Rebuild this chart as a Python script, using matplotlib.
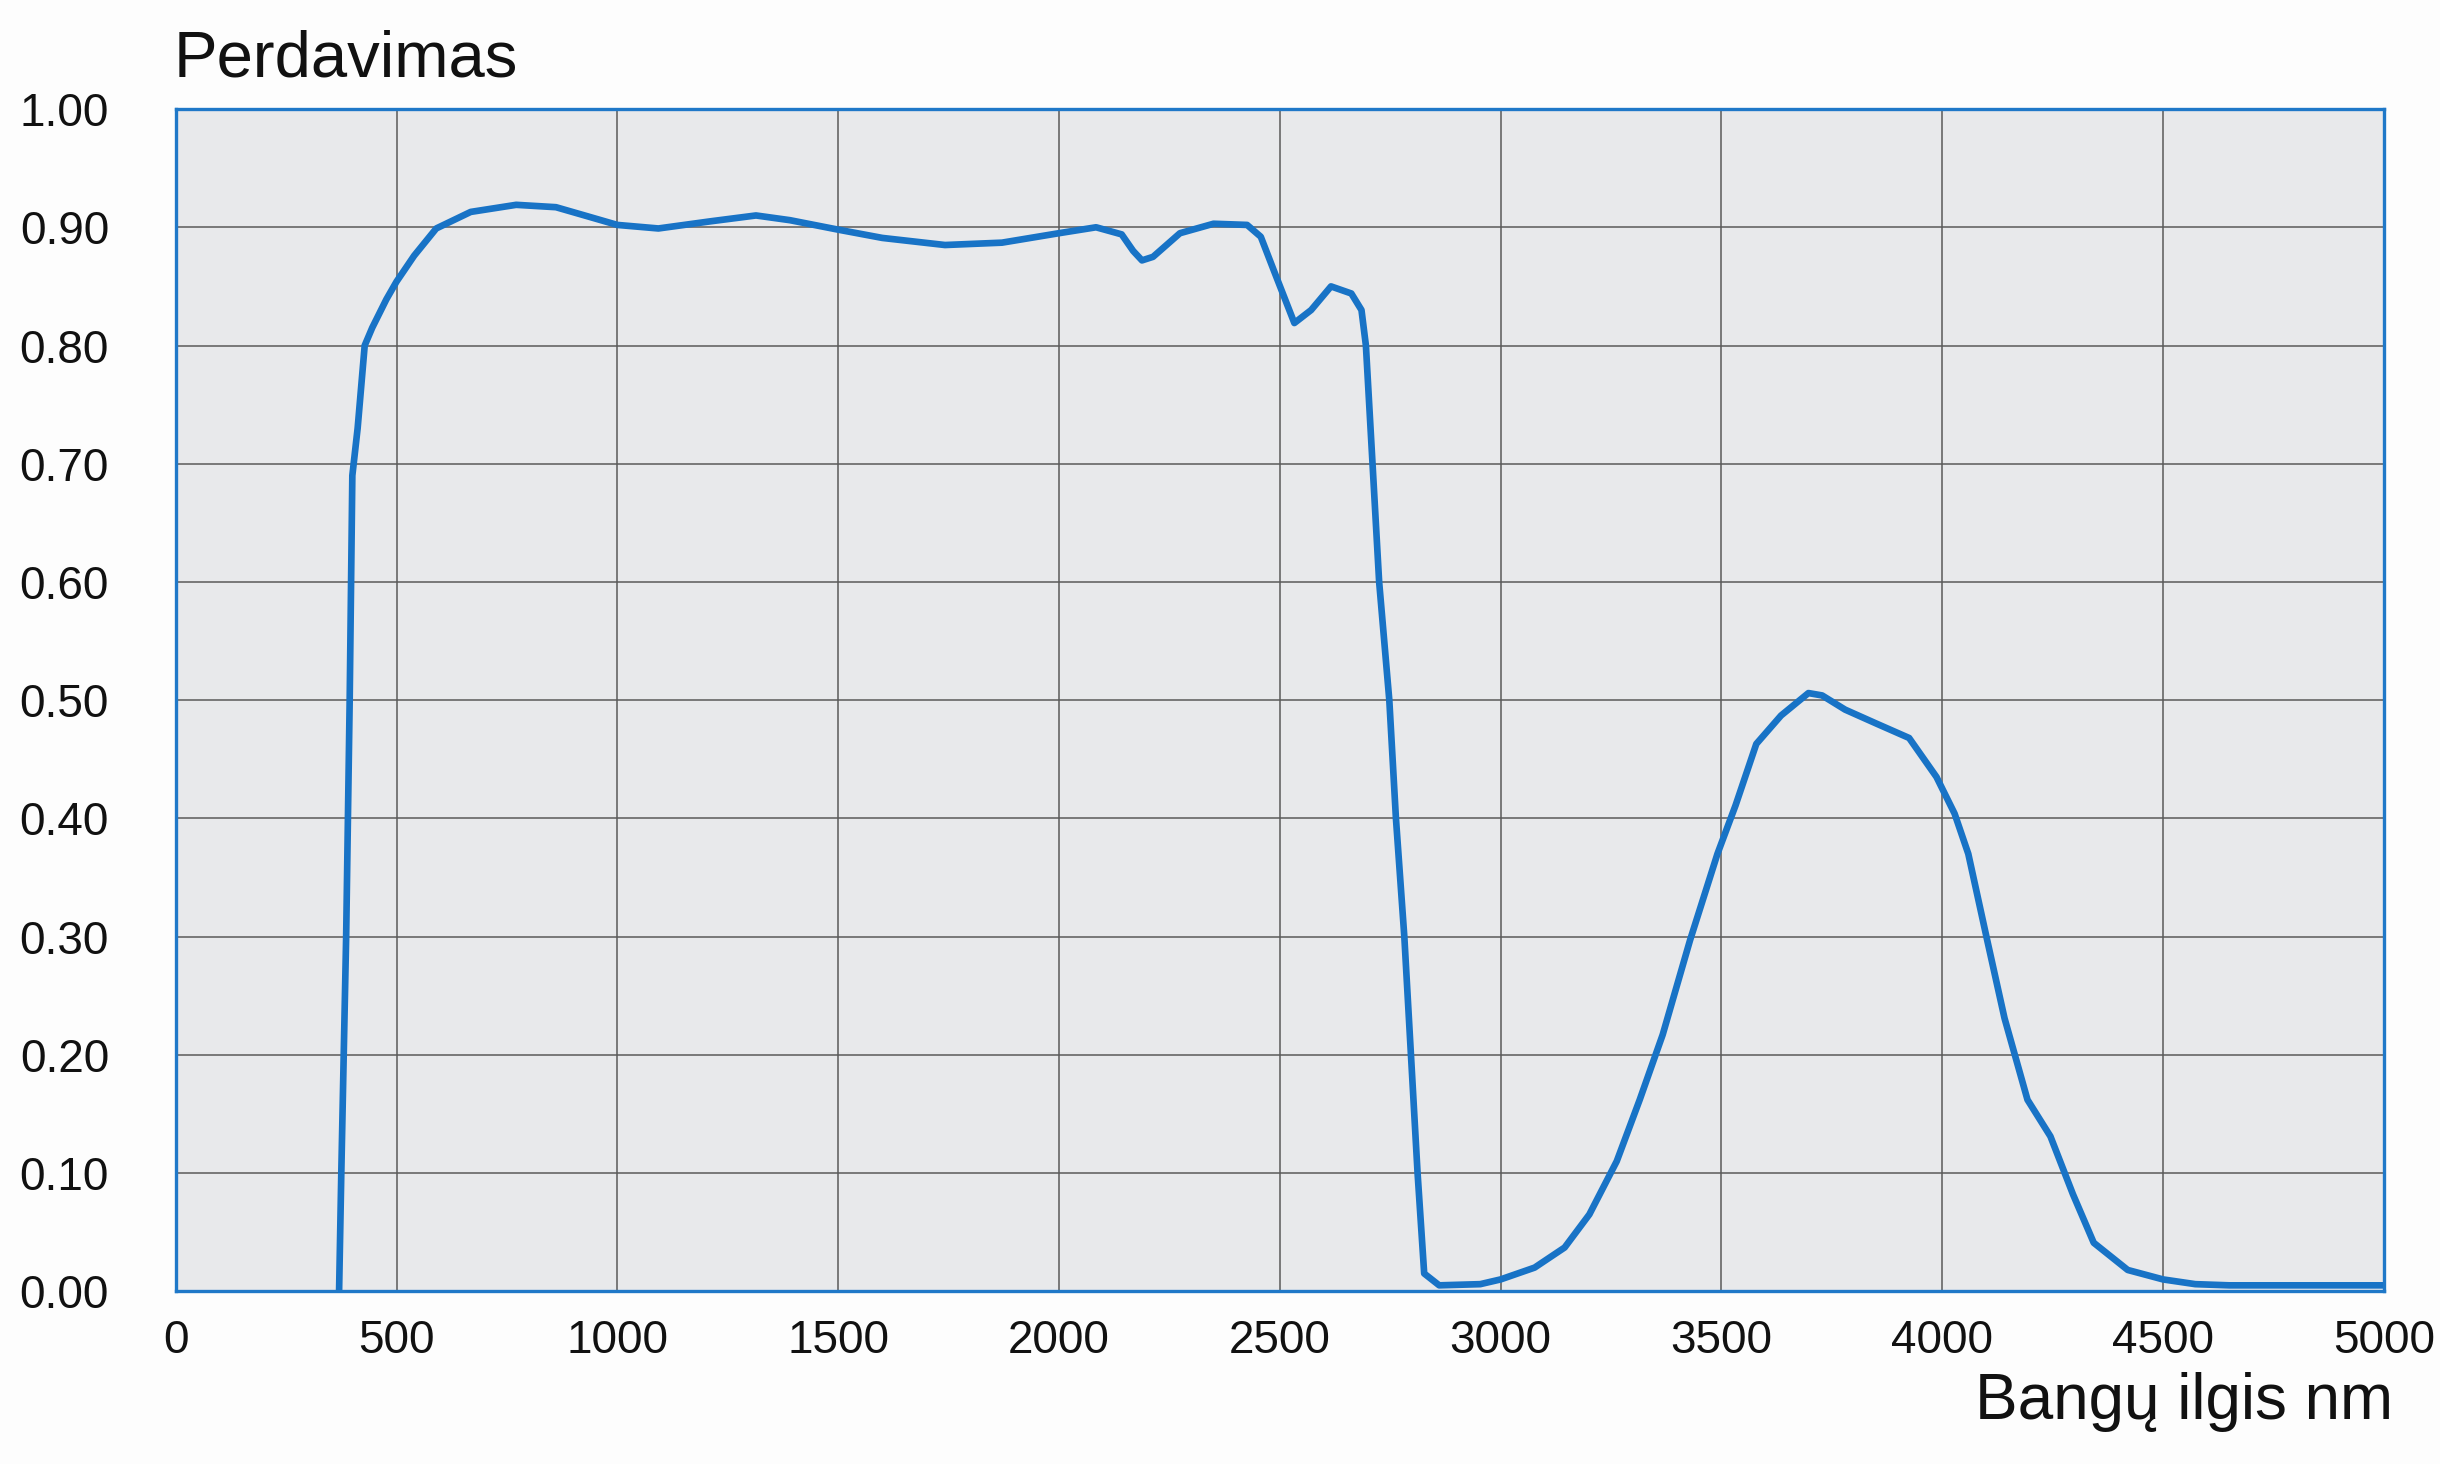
import matplotlib
matplotlib.use("Agg")
import matplotlib.pyplot as plt

# Data
wavelength_nm = [370, 375, 386, 394, 400, 412, 428, 445, 477, 500, 540, 590, 668, 771,
                 861, 926, 1000, 1093, 1210, 1314, 1391, 1500, 1600, 1742, 1871, 2000,
                 2084, 2142, 2168, 2188, 2213, 2274, 2350, 2426, 2457, 2487, 2533, 2571,
                 2616, 2662, 2685, 2695, 2710, 2725, 2748, 2763, 2782, 2797, 2812, 2827,
                 2861, 2954, 3000, 3077, 3145, 3201, 3263, 3315, 3367, 3429, 3491, 3532,
                 3579, 3635, 3697, 3728, 3780, 3852, 3925, 3987, 4028, 4059, 4100, 4141,
                 4193, 4245, 4296, 4343, 4420, 4500, 4573, 4650, 5000]
transmission = [0.0, 0.10, 0.30, 0.50, 0.69, 0.73, 0.80, 0.815, 0.839, 0.854, 0.876,
                0.899, 0.913, 0.919, 0.917, 0.910, 0.902, 0.899, 0.905, 0.910, 0.906,
                0.898, 0.891, 0.885, 0.887, 0.895, 0.900, 0.894, 0.880, 0.872, 0.875,
                0.895, 0.903, 0.902, 0.892, 0.863, 0.819, 0.830, 0.850, 0.844, 0.830,
                0.800, 0.700, 0.600, 0.500, 0.400, 0.300, 0.200, 0.100, 0.015, 0.005,
                0.006, 0.010, 0.020, 0.037, 0.065, 0.110, 0.162, 0.217, 0.297, 0.370,
                0.411, 0.463, 0.487, 0.506, 0.504, 0.492, 0.480, 0.468, 0.435, 0.404,
                0.370, 0.300, 0.231, 0.162, 0.131, 0.082, 0.041, 0.018, 0.010, 0.006,
                0.005, 0.005]

x_ticks = [0, 500, 1000, 1500, 2000, 2500, 3000, 3500, 4000, 4500, 5000]
y_ticks = [0.0, 0.1, 0.2, 0.3, 0.4, 0.5, 0.6, 0.7, 0.8, 0.9, 1.0]
y_tick_labels = ["0.00", "0.10", "0.20", "0.30", "0.40", "0.50", "0.60", "0.70",
                 "0.80", "0.90", "1.00"]

title_text = "Perdavimas"
xlabel_text = "Bangų ilgis nm"

plt.rcParams['font.family'] = ['Liberation Sans', 'DejaVu Sans']

fig = plt.figure(figsize=(24.4, 14.64), dpi=100)
fig.patch.set_facecolor('#fdfdfd')
ax = fig.add_axes([0.072, 0.118, 0.905, 0.8075])
ax.set_facecolor('#e8e9eb')

ax.plot(wavelength_nm, transmission, color='#1873c6', lw=4.8,
        solid_joinstyle='round', solid_capstyle='round', zorder=3)

ax.set_xlim(0, 5000)
ax.set_ylim(0, 1.0)
ax.set_xticks(x_ticks)
ax.set_xticklabels([str(t) for t in x_ticks])
ax.set_yticks(y_ticks)
ax.set_yticklabels(y_tick_labels)

ax.grid(True, color='#5a5a5a', lw=1.1, zorder=1)
ax.set_axisbelow(True)
ax.tick_params(axis='both', length=0, labelsize=33, colors='#111111')
ax.tick_params(axis='y', pad=48)
ax.tick_params(axis='x', pad=20)

for s in ax.spines.values():
    s.set_color('#1f78c8')
    s.set_linewidth(2.4)
    s.set_zorder(4)

fig.text(0.0713, 0.948, title_text, fontsize=47, ha='left', va='baseline',
         color='#111111')
fig.text(0.9807, 0.0307, xlabel_text, fontsize=46, ha='right', va='baseline',
         color='#111111')

fig.savefig('out.png', dpi=100, facecolor=fig.get_facecolor())
